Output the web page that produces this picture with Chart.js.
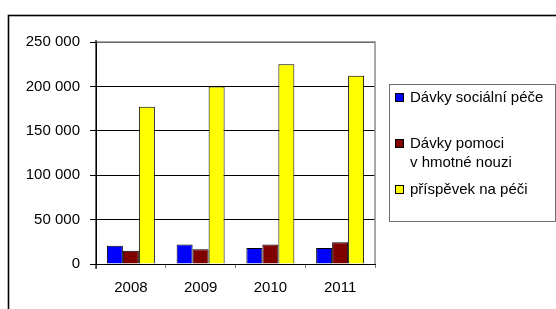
<!DOCTYPE html>
<html>
<head>
<meta charset="utf-8">
<script src="https://cdn.jsdelivr.net/npm/chart.js@4.4.1/dist/chart.umd.min.js"></script>
<style>
html,body{margin:0;padding:0;background:#fff;}
canvas{display:block;}
</style>
</head>
<body>
<canvas id="c" width="556" height="309"></canvas>
<script>
const categories = ["2008", "2009", "2010", "2011"];
const seriesNames = ["Dávky sociální péče", ["Dávky pomoci", "v hmotné nouzi"], "příspěvek na péči"];
const socialCare = [20500, 22000, 18000, 18000];
const materialNeed = [15000, 16500, 22000, 24500];
const careAllowance = [177000, 200000, 225000, 212000];
const yTicks = [0, 50000, 100000, 150000, 200000, 250000];
const colors = ["#0000FF", "#800000", "#FFFF00"];

const FONT = "'Liberation Sans', Arial, sans-serif";

function fmt(v){
  return String(v).replace(/\B(?=(\d{3})+(?!\d))/g, " ");
}

const framePlugin = {
  id: 'frame',
  beforeDraw(chart){
    const ctx = chart.ctx;
    ctx.save();
    ctx.fillStyle = '#fff';
    ctx.fillRect(0,0,chart.width,chart.height);
    ctx.strokeStyle = '#000';
    ctx.lineWidth = 1.6;
    ctx.strokeRect(8.5, 15.5, 700, 500);
    ctx.restore();
  },
  afterDraw(chart){
    const ctx = chart.ctx;
    const a = chart.chartArea;
    ctx.save();
    // plot area top & right border (gray)
    ctx.strokeStyle = '#8c8c8c';
    ctx.lineWidth = 1.5;
    ctx.beginPath();
    ctx.moveTo(a.left, a.top);
    ctx.lineTo(a.right, a.top);
    ctx.lineTo(a.right, a.bottom);
    ctx.stroke();
    // re-draw left axis black on top
    ctx.strokeStyle = '#000';
    ctx.lineWidth = 1.2;
    ctx.beginPath();
    ctx.moveTo(a.left, a.top - 2);
    ctx.lineTo(a.left, a.bottom + 5);
    ctx.stroke();

    // legend
    const lx = 389.5, ly = 84.5, lw = 166, lh = 137;
    ctx.strokeStyle = '#6e6e6e';
    ctx.lineWidth = 1;
    ctx.strokeRect(lx, ly, lw, lh);
    const rows = [98, 144, 190];
    ctx.font = "15px " + FONT;
    ctx.textBaseline = 'middle';
    ctx.textAlign = 'left';
    chart.data.datasets.forEach((ds, i) => {
      const cy = rows[i];
      ctx.fillStyle = ds.backgroundColor;
      ctx.fillRect(395.5, cy - 4.5, 8, 8);
      ctx.strokeStyle = '#000';
      ctx.lineWidth = 1;
      ctx.strokeRect(395.5, cy - 4.5, 8, 8);
      ctx.fillStyle = '#000';
      const lines = Array.isArray(ds.legendText) ? ds.legendText : [ds.legendText];
      lines.forEach((t, j) => ctx.fillText(t, 410, cy + j * 19));
    });
    ctx.restore();
  }
};

const datasets = [socialCare, materialNeed, careAllowance].map((d, i) => ({
  label: Array.isArray(seriesNames[i]) ? seriesNames[i].join(' ') : seriesNames[i],
  legendText: seriesNames[i],
  data: d,
  backgroundColor: colors[i],
  borderColor: '#000',
  borderWidth: 1,
  borderSkipped: 'bottom',
  categoryPercentage: 0.688,
  barPercentage: 1.0
}));

new Chart(document.getElementById('c'), {
  type: 'bar',
  data: { labels: categories, datasets },
  options: {
    responsive: false,
    animation: false,
    devicePixelRatio: 1,
    layout: { padding: { left: 0, top: 42, right: 181, bottom: 0 } },
    plugins: { legend: { display: false }, tooltip: { enabled: false }, title: { display: false } },
    scales: {
      x: {
        offset: true,
        grid: { offset: true, drawOnChartArea: false, drawTicks: true, tickLength: 4, color: '#808080', lineWidth: 1 },
        border: { display: true, color: '#000', width: 1 },
        ticks: { color: '#000', font: { family: FONT, size: 15 }, padding: 11, maxRotation: 0 },
        afterFit(s){ s.height = 45; }
      },
      y: {
        min: 0, max: 250000,
        afterBuildTicks(s){ s.ticks = yTicks.map(v => ({ value: v })); },
        grid: { color: '#000', lineWidth: 1, tickLength: 6, drawTicks: true },
        border: { display: true, color: '#000', width: 1 },
        ticks: { color: '#000', font: { family: FONT, size: 15 }, padding: 10, callback: v => fmt(v) },
        afterFit(s){ s.width = 96; }
      }
    }
  },
  plugins: [framePlugin]
});
</script>
</body>
</html>
